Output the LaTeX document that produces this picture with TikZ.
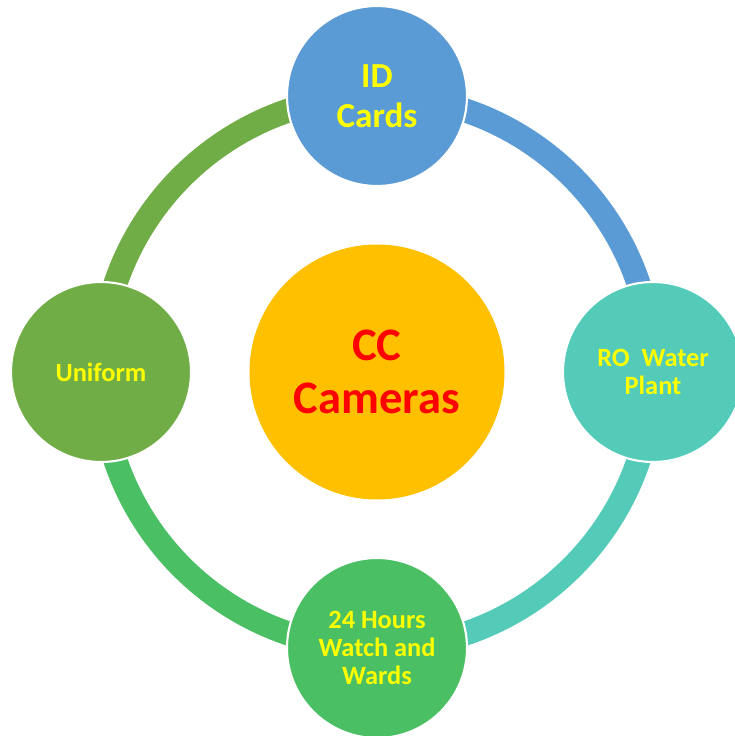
\documentclass[tikz,border=0pt]{standalone}
\usepackage{fontspec}
\setmainfont{Carlito}
\usetikzlibrary{positioning}
\definecolor{cblue}{HTML}{5B9BD5}
\definecolor{cteal}{HTML}{53CBB8}
\definecolor{cgreen}{HTML}{4ABF63}
\definecolor{colive}{HTML}{70AD47}
\definecolor{cgold}{HTML}{FFC000}
\definecolor{cyel}{HTML}{FFFF00}
\definecolor{cred}{HTML}{FF0000}
\tikzset{sat/.style={circle, minimum size=3.6cm, inner sep=0pt, draw=white, line width=1.2pt, align=center, text=cyel, font=\bfseries\fontsize{15}{16}\selectfont}}
\tikzset{ring/.style={line width=0.48cm}}
\begin{document}
\begin{tikzpicture}
		\useasboundingbox (-7.54,-7.28) rectangle (7.16,7.44);
		\def\rr{5.52}
		
		\coordinate (O) at (0,0);
		\coordinate (T) at (90:\rr);
		\coordinate (R) at (0:\rr);
		\coordinate (B) at (-90:\rr);
		\coordinate (L) at (180:\rr);
		
		% ring segments
		\draw[ring, cblue] (T) arc[start angle=90, end angle=0, radius=\rr];
		\draw[ring, cteal] (R) arc[start angle=0, end angle=-90, radius=\rr];
		\draw[ring, cgreen] (B) arc[start angle=-90, end angle=-180, radius=\rr];
		\draw[ring, colive] (L) arc[start angle=180, end angle=90, radius=\rr];
		
		\node[circle, minimum size=5.1cm, inner sep=0pt, fill=cgold, align=center, text=cred, font=\bfseries\fontsize{26.5}{30}\selectfont] (CC) at (O) {CC\\Cameras};
		
		\node[sat, fill=cblue, font=\bfseries\fontsize{20}{22.7}\selectfont] (ID) at (T) {ID\\Cards};
		\node[sat, fill=cteal] (RO) at (R) {RO\ \ Water\\Plant};
		\node[sat, fill=cgreen] (WW) at (B) {24 Hours\\Watch and\\Wards};
		\node[sat, fill=colive] (UF) at (L) {Uniform};
	\end{tikzpicture}
\end{document}
